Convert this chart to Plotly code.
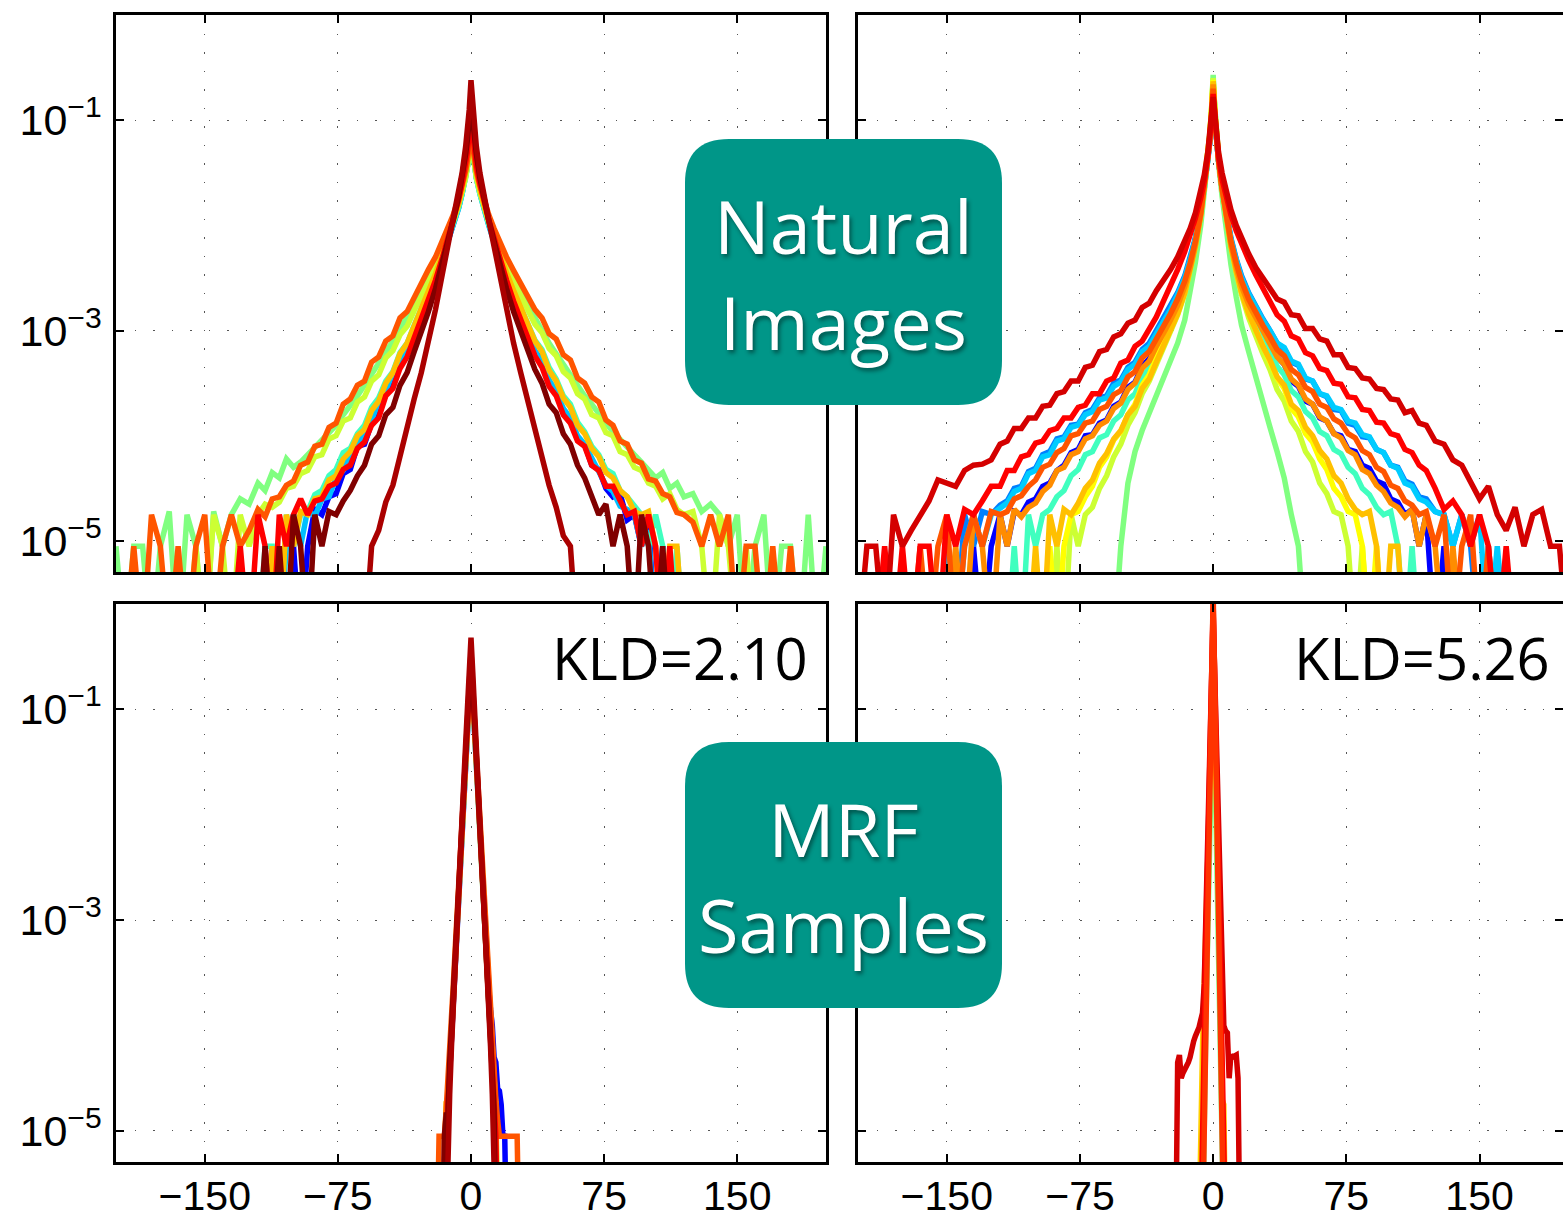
import plotly.graph_objects as go

# ---------------- data (log10 of probability) ----------------
# distances from 0 (both tails) at which values were read, top panels
D_TAIL = [1, 2, 3, 5, 7, 10, 13, 16, 20, 24, 28, 32, 36, 40, 44, 48, 52, 56, 60, 64,
          68, 72, 76, 80, 84, 88, 92, 96, 100, 104, 108, 112, 116, 120, 125, 130, 135, 140, 145, 150,
          155, 160, 165, 170, 175, 180, 185, 190, 195, 200]
# distances for the narrow bottom panels
D_FINE = [1, 2, 3, 4, 5, 6, 7, 8, 9, 10, 11, 12, 13, 14, 15, 16, 17, 18, 19, 20,
          21, 22, 23, 24, 25, 26, 27, 28]

X_TICKS = [-150, -75, 0, 75, 150]
X_TICK_TEXT = ["\u2212150", "\u221275", "0", "75", "150"]
Y_TICKS = [1e-5, 1e-3, 1e-1]
Y_TICK_TEXT = ["10<sup>\u22125</sup>", "10<sup>\u22123</sup>", "10<sup>\u22121</sup>"]

# ---- top-left: natural images, filter set 1
TL_COLORS = ["#0000ff", "#00bfff", "#40ffbf", "#80ff80", "#ccff33", "#ffbf00", "#ff5500", "#ff0000", "#800000", "#aa0000"]
TL_PEAK = [-1.05, -1.1, -1.1, -1.15, -1.12, -1.08, -1.1, -0.95, -0.8, -0.62]
TL_LEFT = [
    [-1.28,-1.42,-1.53,-1.69,-1.83,-2.0,-2.16,-2.32,-2.52,-2.7,-2.88,-3.03,-3.2,-3.33,-3.5,-3.6,-3.8,-3.88,-4.08,-4.1,-4.32,-4.36,-4.55,-4.58,-4.75,-4.7,-5.05,-6,-5.05,-6],
    [-1.3,-1.44,-1.54,-1.7,-1.84,-2.0,-2.15,-2.3,-2.5,-2.67,-2.84,-3.0,-3.13,-3.3,-3.4,-3.57,-3.68,-3.85,-3.95,-4.1,-4.18,-4.33,-4.4,-4.58,-4.6,-4.77,-4.7,-5.05,-4.75,-5.05,-6,-5.05,-6],
    [-1.3,-1.44,-1.55,-1.7,-1.83,-1.99,-2.14,-2.28,-2.47,-2.63,-2.8,-2.95,-3.12,-3.21,-3.39,-3.48,-3.64,-3.73,-3.9,-3.98,-4.12,-4.16,-4.32,-4.38,-4.52,-4.56,-4.72,-4.75,-5.05,-4.75,-6,-5.05,-5.05,-6],
    [-1.32,-1.45,-1.55,-1.68,-1.8,-1.95,-2.08,-2.2,-2.35,-2.48,-2.62,-2.75,-2.87,-2.98,-3.1,-3.2,-3.32,-3.42,-3.52,-3.62,-3.72,-3.8,-3.9,-3.97,-4.05,-4.12,-4.18,-4.25,-4.3,-4.22,-4.4,-4.35,-4.52,-4.45,-4.65,-4.6,-4.75,-5.05,-4.72,-6,-5.05,-4.75,-6,-4.72,-5.05,-6,-5.05,-5.05,-6,-5.05],
    [-1.3,-1.44,-1.54,-1.68,-1.8,-1.96,-2.1,-2.23,-2.39,-2.54,-2.68,-2.81,-2.96,-3.04,-3.19,-3.26,-3.42,-3.48,-3.63,-3.68,-3.83,-3.86,-4.0,-4.03,-4.18,-4.2,-4.33,-4.36,-4.48,-4.5,-4.63,-4.68,-4.65,-4.75,-5.05,-4.75,-6,-5.05,-4.75,-6,-5.05,-6],
    [-1.25,-1.4,-1.5,-1.66,-1.8,-1.97,-2.12,-2.27,-2.46,-2.63,-2.8,-2.96,-3.12,-3.22,-3.4,-3.5,-3.67,-3.76,-3.94,-4.0,-4.15,-4.22,-4.38,-4.42,-4.58,-4.6,-4.75,-4.72,-5.05,-4.75,-6,-5.05,-6],
    [-1.25,-1.38,-1.48,-1.62,-1.74,-1.9,-2.03,-2.15,-2.3,-2.42,-2.55,-2.68,-2.82,-2.88,-3.05,-3.1,-3.25,-3.3,-3.48,-3.52,-3.65,-3.7,-3.88,-3.92,-4.08,-4.1,-4.25,-4.28,-4.43,-4.47,-4.58,-4.6,-4.77,-4.7,-4.9,-5.05,-4.75,-5.05,-6,-4.75,-5.05,-6,-5.05,-6,-5.05,-4.75,-6,-5.05,-6],
    [-1.12,-1.3,-1.42,-1.6,-1.76,-1.95,-2.12,-2.3,-2.52,-2.72,-2.9,-3.07,-3.25,-3.36,-3.55,-3.62,-3.83,-3.9,-4.06,-4.12,-4.28,-4.32,-4.45,-4.48,-4.6,-4.62,-4.75,-4.6,-4.75,-5.05,-4.75,-6,-5.05,-4.75,-6,-5.05,-6],
    [-1.0,-1.18,-1.32,-1.55,-1.73,-1.95,-2.15,-2.35,-2.6,-2.82,-3.02,-3.2,-3.4,-3.52,-3.73,-3.8,-4.0,-4.08,-4.28,-4.38,-4.52,-4.62,-4.75,-4.72,-5.05,-4.75,-6,-5.05,-4.75,-6,-5.05,-6,-5.05,-6],
    [-0.9,-1.1,-1.25,-1.5,-1.7,-1.95,-2.2,-2.45,-2.8,-3.12,-3.4,-3.65,-3.92,-4.18,-4.47,-4.63,-4.9,-5.05,-6],
]
TL_RIGHT = [
    [-1.27,-1.41,-1.52,-1.68,-1.82,-1.99,-2.15,-2.3,-2.5,-2.68,-2.86,-3.02,-3.2,-3.28,-3.5,-3.58,-3.78,-3.86,-4.03,-4.08,-4.28,-4.32,-4.5,-4.58,-4.55,-4.8,-4.75,-5.05,-4.77,-6,-5.05,-6],
    [-1.3,-1.44,-1.55,-1.7,-1.84,-2.0,-2.16,-2.32,-2.52,-2.7,-2.86,-3.02,-3.19,-3.3,-3.47,-3.58,-3.74,-3.83,-4.0,-4.08,-4.22,-4.33,-4.47,-4.53,-4.67,-4.7,-4.75,-5.05,-4.9,-6,-5.05,-6],
    [-1.3,-1.44,-1.55,-1.7,-1.83,-1.99,-2.13,-2.27,-2.45,-2.62,-2.78,-2.93,-3.09,-3.18,-3.35,-3.46,-3.62,-3.7,-3.87,-3.96,-4.1,-4.18,-4.32,-4.36,-4.52,-4.58,-4.67,-4.75,-5.05,-4.75,-5.05,-6,-5.05,-6],
    [-1.32,-1.45,-1.55,-1.68,-1.8,-1.95,-2.08,-2.2,-2.35,-2.5,-2.63,-2.76,-2.88,-3.0,-3.12,-3.22,-3.33,-3.43,-3.53,-3.62,-3.7,-3.8,-3.88,-3.96,-4.04,-4.1,-4.18,-4.25,-4.32,-4.4,-4.35,-4.5,-4.45,-4.58,-4.55,-4.72,-4.65,-4.75,-5.05,-4.75,-6,-5.05,-4.75,-6,-5.05,-5.05,-6,-4.75,-6,-5.05],
    [-1.3,-1.44,-1.54,-1.68,-1.8,-1.96,-2.1,-2.23,-2.39,-2.53,-2.66,-2.8,-2.94,-3.02,-3.17,-3.24,-3.39,-3.45,-3.6,-3.65,-3.8,-3.83,-3.97,-4.0,-4.15,-4.18,-4.3,-4.33,-4.45,-4.48,-4.6,-4.55,-4.7,-4.75,-4.72,-5.05,-6,-4.75,-5.05,-6,-5.05,-6],
    [-1.25,-1.4,-1.5,-1.66,-1.8,-1.97,-2.12,-2.27,-2.45,-2.62,-2.78,-2.93,-3.1,-3.2,-3.38,-3.48,-3.64,-3.73,-3.9,-3.98,-4.12,-4.2,-4.35,-4.4,-4.52,-4.58,-4.72,-4.75,-4.72,-5.05,-6,-5.05,-5.05,-6],
    [-1.25,-1.38,-1.48,-1.62,-1.74,-1.9,-2.03,-2.15,-2.3,-2.43,-2.56,-2.68,-2.8,-2.88,-3.03,-3.08,-3.23,-3.28,-3.45,-3.5,-3.63,-3.68,-3.85,-3.9,-4.05,-4.08,-4.23,-4.26,-4.41,-4.43,-4.55,-4.58,-4.73,-4.75,-4.82,-5.05,-4.75,-5.05,-4.75,-6,-5.05,-5.05,-6,-5.05,-6,-5.05,-6],
    [-1.12,-1.3,-1.42,-1.6,-1.76,-1.95,-2.12,-2.3,-2.52,-2.72,-2.9,-3.06,-3.24,-3.35,-3.53,-3.62,-3.8,-3.88,-4.05,-4.1,-4.28,-4.33,-4.48,-4.48,-4.62,-4.75,-4.72,-5.05,-4.75,-5.05,-6,-5.05,-6],
    [-1.0,-1.18,-1.32,-1.55,-1.73,-1.95,-2.15,-2.35,-2.6,-2.82,-3.0,-3.18,-3.37,-3.5,-3.7,-3.78,-3.98,-4.08,-4.28,-4.4,-4.57,-4.75,-4.65,-5.05,-4.75,-5.05,-6,-4.75,-5.05,-6,-5.05,-6],
    [-0.9,-1.1,-1.25,-1.5,-1.7,-1.95,-2.2,-2.45,-2.8,-3.12,-3.4,-3.67,-3.95,-4.2,-4.47,-4.68,-4.95,-5.05,-6],
]

# ---- top-right: natural images, filter set 2
TR_COLORS = ["#0000ff", "#0080ff", "#00ccff", "#40ffbf", "#80ff80", "#ccff33", "#ffff00", "#ffc000", "#ff8c00", "#ff5500", "#ff0000", "#d40000"]
TR_PEAK = [-0.72, -0.72, -0.7, -0.66, -0.57, -0.6, -0.62, -0.63, -0.66, -0.7, -0.75, -0.78]
TR_LEFT = [
    [-1.0,-1.22,-1.38,-1.65,-1.88,-2.15,-2.37,-2.55,-2.73,-2.88,-3.02,-3.14,-3.27,-3.34,-3.49,-3.54,-3.68,-3.72,-3.85,-3.88,-3.99,-4.0,-4.13,-4.16,-4.28,-4.33,-4.45,-4.48,-4.6,-4.63,-4.75,-4.72,-5.05,-4.75,-5.05,-6,-5.05,-6],
    [-1.0,-1.22,-1.38,-1.64,-1.86,-2.12,-2.32,-2.48,-2.64,-2.78,-2.9,-3.0,-3.12,-3.18,-3.3,-3.35,-3.47,-3.5,-3.62,-3.64,-3.75,-3.78,-3.89,-3.9,-4.01,-4.03,-4.15,-4.18,-4.31,-4.34,-4.48,-4.5,-4.62,-4.66,-4.75,-4.72,-5.05,-4.75,-6,-5.05,-6],
    [-1.0,-1.22,-1.38,-1.64,-1.87,-2.13,-2.33,-2.5,-2.66,-2.8,-2.92,-3.03,-3.15,-3.2,-3.32,-3.37,-3.49,-3.53,-3.64,-3.66,-3.77,-3.8,-3.9,-3.92,-4.03,-4.05,-4.18,-4.2,-4.33,-4.36,-4.5,-4.53,-4.64,-4.68,-4.75,-5.05,-4.75,-5.05,-6,-5.05,-6],
    [-0.96,-1.2,-1.36,-1.64,-1.88,-2.16,-2.4,-2.58,-2.77,-2.93,-3.08,-3.21,-3.36,-3.44,-3.6,-3.66,-3.8,-3.86,-3.99,-4.02,-4.15,-4.18,-4.32,-4.38,-4.52,-4.58,-4.7,-4.75,-5.05,-4.75,-6,-5.05,-6],
    [-0.95,-1.2,-1.4,-1.72,-2.0,-2.35,-2.65,-2.9,-3.12,-3.3,-3.45,-3.62,-3.78,-3.95,-4.15,-4.45,-5.05,-6],
    [-0.92,-1.15,-1.33,-1.62,-1.88,-2.2,-2.45,-2.65,-2.85,-3.02,-3.17,-3.32,-3.48,-3.6,-3.78,-3.9,-4.08,-4.2,-4.38,-4.5,-4.68,-4.75,-5.05,-4.75,-6,-5.05,-6],
    [-0.92,-1.15,-1.33,-1.62,-1.88,-2.18,-2.42,-2.62,-2.82,-2.98,-3.12,-3.26,-3.42,-3.52,-3.7,-3.8,-3.96,-4.04,-4.2,-4.3,-4.48,-4.58,-4.72,-4.75,-5.05,-6,-5.05,-6],
    [-0.95,-1.17,-1.35,-1.64,-1.9,-2.2,-2.44,-2.64,-2.84,-3.0,-3.15,-3.3,-3.46,-3.55,-3.72,-3.8,-3.95,-4.03,-4.17,-4.26,-4.42,-4.5,-4.64,-4.75,-4.7,-5.05,-4.75,-6,-5.05,-6],
    [-0.98,-1.2,-1.37,-1.65,-1.9,-2.18,-2.4,-2.58,-2.76,-2.9,-3.03,-3.15,-3.29,-3.36,-3.5,-3.56,-3.69,-3.74,-3.86,-3.9,-4.0,-4.03,-4.15,-4.18,-4.3,-4.33,-4.47,-4.53,-4.64,-4.68,-4.77,-4.7,-5.05,-4.75,-6,-5.05,-4.75,-6,-5.05,-6],
    [-1.0,-1.22,-1.38,-1.65,-1.88,-2.15,-2.36,-2.53,-2.7,-2.84,-2.97,-3.08,-3.2,-3.26,-3.39,-3.44,-3.57,-3.61,-3.72,-3.75,-3.86,-3.88,-3.98,-4.0,-4.12,-4.16,-4.27,-4.3,-4.42,-4.48,-4.57,-4.6,-4.72,-4.75,-4.72,-5.05,-4.75,-5.05,-6,-4.75,-5.05,-6,-5.05,-6],
    [-1.0,-1.2,-1.35,-1.58,-1.74,-1.93,-2.1,-2.25,-2.42,-2.58,-2.72,-2.87,-2.98,-3.1,-3.15,-3.28,-3.31,-3.45,-3.48,-3.6,-3.6,-3.71,-3.73,-3.83,-3.83,-3.93,-3.95,-4.05,-4.07,-4.18,-4.2,-4.33,-4.33,-4.48,-4.48,-4.62,-4.75,-4.7,-5.05,-4.75,-6,-5.05,-5.05,-6,-5.05,-6,-5.05,-6],
    [-0.95,-1.15,-1.3,-1.52,-1.68,-1.88,-2.03,-2.15,-2.3,-2.42,-2.53,-2.62,-2.74,-2.78,-2.9,-2.93,-3.03,-3.06,-3.18,-3.2,-3.33,-3.35,-3.48,-3.48,-3.58,-3.6,-3.71,-3.72,-3.83,-3.83,-3.93,-3.93,-4.05,-4.08,-4.23,-4.27,-4.28,-4.33,-4.48,-4.45,-4.42,-4.62,-4.75,-4.9,-5.05,-4.75,-6,-5.05,-5.05,-6],
]
TR_RIGHT = [
    [-1.0,-1.22,-1.38,-1.65,-1.88,-2.15,-2.37,-2.55,-2.72,-2.86,-3.0,-3.12,-3.25,-3.32,-3.48,-3.53,-3.67,-3.7,-3.83,-3.86,-3.98,-4.0,-4.13,-4.15,-4.28,-4.31,-4.43,-4.46,-4.6,-4.63,-4.75,-4.7,-5.05,-4.75,-6,-5.05,-6],
    [-1.0,-1.22,-1.38,-1.64,-1.86,-2.12,-2.32,-2.48,-2.64,-2.77,-2.89,-3.0,-3.12,-3.17,-3.3,-3.33,-3.46,-3.48,-3.6,-3.63,-3.75,-3.76,-3.88,-3.9,-4.01,-4.02,-4.13,-4.16,-4.28,-4.3,-4.43,-4.46,-4.58,-4.6,-4.72,-4.75,-5.05,-4.75,-5.05,-6,-5.05,-6],
    [-1.0,-1.22,-1.38,-1.64,-1.87,-2.13,-2.33,-2.5,-2.65,-2.78,-2.9,-3.0,-3.12,-3.16,-3.29,-3.32,-3.45,-3.48,-3.6,-3.62,-3.73,-3.75,-3.86,-3.88,-3.99,-4.01,-4.13,-4.16,-4.28,-4.31,-4.45,-4.48,-4.6,-4.63,-4.72,-4.75,-5.05,-4.75,-5.05,-4.75,-6,-5.05,-6],
    [-0.96,-1.2,-1.36,-1.64,-1.88,-2.16,-2.4,-2.58,-2.76,-2.92,-3.06,-3.19,-3.34,-3.42,-3.57,-3.63,-3.77,-3.83,-3.96,-4.0,-4.13,-4.17,-4.3,-4.36,-4.5,-4.56,-4.68,-4.75,-4.72,-5.05,-6,-5.05,-6],
    [-0.95,-1.2,-1.4,-1.72,-2.0,-2.37,-2.68,-2.95,-3.2,-3.45,-3.7,-3.92,-4.15,-4.4,-4.75,-5.05,-6],
    [-0.92,-1.15,-1.33,-1.62,-1.88,-2.2,-2.45,-2.66,-2.88,-3.06,-3.22,-3.37,-3.56,-3.67,-3.86,-3.96,-4.15,-4.25,-4.45,-4.55,-4.72,-4.75,-5.05,-6,-5.05,-6],
    [-0.92,-1.15,-1.33,-1.62,-1.88,-2.18,-2.42,-2.63,-2.84,-3.0,-3.15,-3.3,-3.45,-3.55,-3.74,-3.82,-3.98,-4.06,-4.22,-4.32,-4.5,-4.58,-4.72,-4.75,-5.05,-6,-5.05,-6],
    [-0.95,-1.17,-1.35,-1.64,-1.9,-2.2,-2.44,-2.64,-2.84,-3.0,-3.15,-3.28,-3.44,-3.52,-3.7,-3.76,-3.92,-4.0,-4.14,-4.22,-4.38,-4.45,-4.6,-4.7,-4.75,-4.72,-5.05,-6,-5.05,-5.05,-6],
    [-0.98,-1.2,-1.37,-1.65,-1.9,-2.18,-2.4,-2.58,-2.75,-2.88,-3.0,-3.12,-3.25,-3.32,-3.46,-3.52,-3.65,-3.7,-3.82,-3.86,-3.98,-4.02,-4.14,-4.18,-4.32,-4.36,-4.47,-4.53,-4.64,-4.68,-4.77,-4.7,-5.05,-4.75,-5.05,-6,-5.05,-6],
    [-1.0,-1.22,-1.38,-1.65,-1.88,-2.15,-2.36,-2.53,-2.7,-2.83,-2.95,-3.06,-3.18,-3.24,-3.37,-3.42,-3.54,-3.58,-3.7,-3.73,-3.84,-3.88,-3.98,-4.02,-4.14,-4.18,-4.3,-4.34,-4.47,-4.5,-4.62,-4.66,-4.75,-4.72,-5.05,-4.75,-6,-5.05,-4.75,-6,-5.05,-6],
    [-1.0,-1.2,-1.35,-1.56,-1.72,-1.9,-2.05,-2.18,-2.33,-2.47,-2.6,-2.72,-2.85,-2.91,-3.05,-3.08,-3.21,-3.24,-3.36,-3.38,-3.5,-3.51,-3.63,-3.64,-3.75,-3.76,-3.87,-3.88,-3.98,-4.0,-4.13,-4.16,-4.28,-4.33,-4.5,-4.7,-4.62,-4.75,-5.05,-4.75,-5.05,-6,-5.05,-6],
    [-0.95,-1.15,-1.3,-1.5,-1.65,-1.85,-2.0,-2.12,-2.27,-2.4,-2.5,-2.6,-2.7,-2.73,-2.85,-2.86,-2.98,-2.98,-3.08,-3.1,-3.23,-3.23,-3.35,-3.36,-3.45,-3.46,-3.55,-3.56,-3.65,-3.66,-3.78,-3.76,-3.88,-3.9,-4.05,-4.08,-4.23,-4.28,-4.43,-4.6,-4.48,-4.75,-4.9,-4.68,-5.05,-4.75,-4.7,-5.05,-5.05,-6],
]

# ---- bottom-left: MRF samples, filter set 1 (KLD = 2.10)
BL_COLORS = ["#0000ff", "#00bfff", "#80ff80", "#ffbf00", "#ff5500", "#ff0000", "#800000", "#aa0000"]
BL_PEAK = [-0.58, -0.56, -0.55, -0.55, -0.52, -0.5, -0.45, -0.32]
BL_LEFT = [
    [-0.9,-1.22,-1.54,-1.86,-2.18,-2.5,-2.82,-3.14,-3.46,-3.78,-4.1,-4.45,-4.8,-5.05,-6],
    [-0.88,-1.2,-1.52,-1.84,-2.16,-2.48,-2.8,-3.12,-3.44,-3.76,-4.08,-4.4,-4.75,-5.05,-6],
    [-0.87,-1.19,-1.51,-1.83,-2.15,-2.47,-2.79,-3.11,-3.43,-3.75,-4.07,-4.4,-4.72,-5.05,-6],
    [-0.87,-1.19,-1.51,-1.83,-2.15,-2.47,-2.79,-3.11,-3.43,-3.75,-4.07,-4.4,-4.75,-4.72,-5.05,-6],
    [-0.83,-1.14,-1.45,-1.76,-2.07,-2.38,-2.7,-3.0,-3.3,-3.62,-3.94,-4.25,-4.55,-4.8,-5.05,-5.05,-5.05,-5.05,-6],
    [-0.82,-1.15,-1.48,-1.8,-2.12,-2.45,-2.78,-3.1,-3.42,-3.75,-4.08,-4.45,-4.75,-5.05,-6],
    [-0.78,-1.1,-1.42,-1.75,-2.08,-2.4,-2.72,-3.05,-3.38,-3.7,-4.02,-4.35,-4.85,-4.85,-5.05,-6],
    [-0.65,-0.98,-1.32,-1.66,-2.0,-2.35,-2.7,-3.05,-3.42,-3.8,-4.2,-4.65,-5.05,-6],
]
BL_RIGHT = [
    [-0.9,-1.22,-1.54,-1.86,-2.18,-2.5,-2.82,-3.14,-3.46,-3.65,-3.85,-4.0,-4.3,-4.35,-4.6,-4.62,-4.75,-5.05,-5.05,-6],
    [-0.88,-1.2,-1.52,-1.84,-2.16,-2.48,-2.8,-3.12,-3.44,-3.76,-4.08,-4.4,-4.75,-5.05,-6],
    [-0.87,-1.19,-1.51,-1.83,-2.15,-2.47,-2.79,-3.11,-3.43,-3.75,-4.05,-4.35,-4.5,-4.75,-6],
    [-0.87,-1.19,-1.51,-1.83,-2.15,-2.47,-2.79,-3.11,-3.43,-3.75,-4.07,-4.4,-4.75,-4.72,-6],
    [-0.83,-1.14,-1.45,-1.76,-2.07,-2.38,-2.68,-2.98,-3.28,-3.58,-3.88,-4.18,-4.45,-4.7,-4.9,-5.05,-5.05,-5.05,-5.05,-5.05,-5.05,-5.05,-5.05,-5.05,-5.05,-5.05,-6],
    [-0.82,-1.15,-1.48,-1.8,-2.12,-2.45,-2.78,-3.1,-3.42,-3.75,-4.08,-4.45,-4.75,-5.05,-6],
    [-0.78,-1.1,-1.42,-1.75,-2.08,-2.4,-2.72,-3.05,-3.38,-3.7,-4.05,-4.4,-4.8,-6],
    [-0.65,-0.98,-1.32,-1.66,-2.0,-2.35,-2.7,-3.05,-3.42,-3.8,-4.2,-4.65,-5.05,-6],
]

# ---- bottom-right: MRF samples, filter set 2 (KLD = 5.26)
BR_COLORS = ["#80ff80", "#ffd000", "#d40000", "#ff0000", "#ff3300"]
BR_PEAK = [-0.7, -0.6, -0.08, 0.0, 0.1]
BR_LEFT = [
    [-1.5,-2.3,-3.1,-3.9,-4.7,-6],
    [-1.2,-1.8,-2.4,-3.0,-3.6,-4.2,-4.8,-6],
    [-0.75,-1.45,-2.2,-2.95,-3.6,-3.88,-3.95,-4.02,-4.07,-4.1,-4.15,-4.2,-4.3,-4.35,-4.38,-4.42,-4.45,-4.5,-4.28,-4.35,-6],
    [-0.8,-1.6,-2.4,-3.2,-4.0,-4.8,-6],
    [-0.9,-1.9,-2.9,-3.9,-5.05,-6],
]
BR_RIGHT = [
    [-1.5,-2.3,-3.1,-3.9,-4.7,-6],
    [-1.3,-2.0,-2.7,-3.4,-4.7,-4.75,-6],
    [-0.75,-1.45,-2.2,-2.95,-3.6,-4.0,-4.05,-4.07,-4.5,-4.28,-4.3,-4.28,-4.28,-4.5,-6],
    [-0.8,-1.6,-2.4,-3.2,-4.0,-4.8,-6],
    [-0.9,-1.9,-2.9,-3.9,-5.05,-6],
]

KLD_LABELS = ["KLD=2.10", "KLD=5.26"]
BOX_LABELS = ["Natural<br>Images", "MRF<br>Samples"]

# ---------------- figure ----------------
W, H = 1563, 1221
ML, MR, MT, MB = 116, 0, 15, 59
PW, PH = W - ML - MR, H - MT - MB


def px(x):
    return (x - ML) / PW


def py(y):
    return (H - MB - y) / PH


fig = go.Figure()


def add_panel(colors, peaks, lefts, rights, grid, xa, ya):
    for c, pk, lf, rt in zip(colors, peaks, lefts, rights):
        xs = [-d for d in reversed(grid[:len(lf)])] + [0] + list(grid[:len(rt)])
        vals = list(reversed(lf[:len(grid)])) + [pk] + list(rt[:len(grid)])
        ys = [10 ** v for v in vals]
        fig.add_trace(go.Scatter(x=xs, y=ys, mode="lines", xaxis=xa, yaxis=ya,
                                 line=dict(color=c, width=5.5), showlegend=False,
                                 hoverinfo="skip"))


add_panel(TL_COLORS, TL_PEAK, TL_LEFT, TL_RIGHT, D_TAIL, "x", "y")
add_panel(TR_COLORS, TR_PEAK, TR_LEFT, TR_RIGHT, D_TAIL, "x2", "y2")
add_panel(BL_COLORS, BL_PEAK, BL_LEFT, BL_RIGHT, D_FINE, "x3", "y3")
add_panel(BR_COLORS, BR_PEAK, BR_LEFT, BR_RIGHT, D_FINE, "x4", "y4")

GRID = dict(showgrid=True, gridcolor="#555555", gridwidth=1.3, griddash="1.5px,17px")
LINE = dict(showline=True, linecolor="black", linewidth=2.5, mirror="allticks",
            ticks="inside", ticklen=8, tickwidth=2, tickcolor="black", zeroline=False,
            automargin=False)

XTICKFONT = dict(family="Liberation Sans Narrow, Arial Narrow, Liberation Sans, Arial", size=41, color="black")
YTICKFONT = dict(family="Liberation Sans, Arial, Helvetica", size=43, color="black")

left_dom = [0, px(826)]
right_dom = [px(858), 1]
top_dom = [py(572), 1]
bot_dom = [0, py(604)]


def xaxis(dom, anchor, rng, labels):
    return dict(domain=dom, anchor=anchor, range=rng, tickvals=X_TICKS, ticktext=X_TICK_TEXT,
                showticklabels=labels, tickfont=XTICKFONT, ticklabelstandoff=-4, **GRID, **LINE)


def yaxis(dom, anchor, labels):
    return dict(domain=dom, anchor=anchor, type="log", range=[-5.295, 0], tickvals=Y_TICKS,
                ticktext=Y_TICK_TEXT, showticklabels=labels, tickfont=YTICKFONT,
                ticklabelstandoff=3, **GRID, **LINE)


fig.update_layout(
    width=W, height=H,
    margin=dict(l=ML, r=MR, t=MT, b=MB, pad=0, autoexpand=False),
    paper_bgcolor="white", plot_bgcolor="white",
    xaxis=xaxis(left_dom, "y", [-200, 200], False),
    xaxis2=xaxis(right_dom, "y2", [-200, 197], False),
    xaxis3=xaxis(left_dom, "y3", [-200, 200], True),
    xaxis4=xaxis(right_dom, "y4", [-200, 197], True),
    yaxis=yaxis(top_dom, "x", True),
    yaxis2=yaxis(top_dom, "x2", False),
    yaxis3=yaxis(bot_dom, "x3", True),
    yaxis4=yaxis(bot_dom, "x4", False),
)


def rounded_box(x0, y0, x1, y1, r):
    X = lambda v: f"{px(v):.5f}"
    Y = lambda v: f"{py(v):.5f}"
    return (f"M {X(x0 + r)},{Y(y0)} L {X(x1 - r)},{Y(y0)} Q {X(x1)},{Y(y0)} {X(x1)},{Y(y0 + r)} "
            f"L {X(x1)},{Y(y1 - r)} Q {X(x1)},{Y(y1)} {X(x1 - r)},{Y(y1)} "
            f"L {X(x0 + r)},{Y(y1)} Q {X(x0)},{Y(y1)} {X(x0)},{Y(y1 - r)} "
            f"L {X(x0)},{Y(y0 + r)} Q {X(x0)},{Y(y0)} {X(x0 + r)},{Y(y0)} Z")


BOX_FONT = dict(family="Open Sans, Noto Sans, sans-serif", size=74, color="white",
                shadow="2px 3px 4px rgba(0,0,0,0.45)")
shapes = []
annotations = []
for (top, bottom), txt in zip([(139, 405), (742, 1008)], BOX_LABELS):
    shapes.append(dict(type="path", xref="paper", yref="paper", layer="above",
                       path=rounded_box(685, top, 1002, bottom, 44),
                       fillcolor="#009688", line=dict(width=0)))
    annotations.append(dict(xref="paper", yref="paper", x=px(843.5),
                            y=py(top + 134.5), text=txt, showarrow=False,
                            xanchor="center", yanchor="middle", font=BOX_FONT))

KLD_FONT = dict(family="Open Sans, Noto Sans, sans-serif", size=58, color="black")
for xr, txt in zip([810, 1552], KLD_LABELS):
    annotations.append(dict(xref="paper", yref="paper", x=px(xr), y=py(657), text=txt,
                            showarrow=False, xanchor="right", yanchor="middle", font=KLD_FONT))

fig.update_layout(shapes=shapes, annotations=annotations)
fig.write_html("out.html")
